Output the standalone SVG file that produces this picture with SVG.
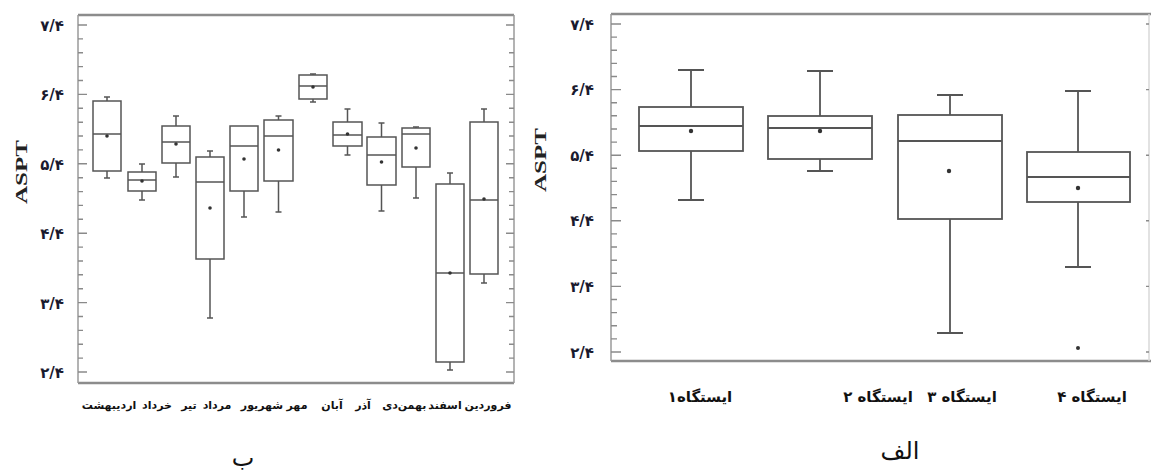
<svg xmlns="http://www.w3.org/2000/svg" width="1151" height="470" viewBox="0 0 1151 470">
<style>
.bg{fill:#fff}
.frame{stroke:#8c8c8c;stroke-width:2.5;fill:none}
.axis{stroke:#9a9a9a;stroke-width:1.5;fill:none}
.tick{stroke:#8a8a8a;stroke-width:1.4;fill:none}
.bx{fill:none;stroke:#555;stroke-width:1.5}
.bxr{fill:none;stroke:#555;stroke-width:1.8}
.dot{fill:#333}
.ylab{font-family:"DejaVu Sans",sans-serif;font-weight:bold;font-size:15px;fill:#1a1a2e}
.ttl{font-family:"Liberation Serif",serif;font-weight:bold;font-size:17px;fill:#222}
.xl{font-family:"DejaVu Sans",sans-serif;font-weight:bold;font-size:11px;fill:#111}
.xr{font-family:"DejaVu Sans",sans-serif;font-weight:bold;font-size:15px;fill:#111}
.cap{font-family:"DejaVu Sans",sans-serif;font-size:24px;fill:#111}
</style>
<rect class="bg" x="0" y="0" width="1151" height="470"/>

<!-- Left chart (ب) -->
<g id="chart-b-frame">
<line class="frame" x1="78" y1="15" x2="514" y2="15"/>
<line class="frame" x1="78" y1="383" x2="514" y2="383"/>
<line class="axis" x1="78" y1="15" x2="78" y2="383"/>
<line class="axis" x1="514" y1="15" x2="514" y2="383"/>
<path class="tick" d="M78 25h9M78 38.9h5M78 52.8h5M78 66.6h5M78 80.5h5M78 94.4h9M78 108.3h5M78 122.2h5M78 136h5M78 149.9h5M78 163.8h9M78 177.7h5M78 191.6h5M78 205.4h5M78 219.3h5M78 233.2h9M78 247.1h5M78 261h5M78 274.8h5M78 288.7h5M78 302.6h9M78 316.5h5M78 330.4h5M78 344.2h5M78 358.1h5M78 372h9"/>
<path class="tick" d="M514 25h-8M514 38.9h-5M514 52.8h-5M514 66.6h-5M514 80.5h-5M514 94.4h-8M514 108.3h-5M514 122.2h-5M514 136h-5M514 149.9h-5M514 163.8h-8M514 177.7h-5M514 191.6h-5M514 205.4h-5M514 219.3h-5M514 233.2h-8M514 247.1h-5M514 261h-5M514 274.8h-5M514 288.7h-5M514 302.6h-8M514 316.5h-5M514 330.4h-5M514 344.2h-5M514 358.1h-5M514 372h-8"/>
</g>
<g id="chart-b-yaxis">
<text class="ttl" transform="translate(27,172) rotate(-90)" text-anchor="middle" textLength="64" lengthAdjust="spacingAndGlyphs">ASPT</text>
<text class="ylab" x="64" y="31" text-anchor="end">۷/۴</text>
<text class="ylab" x="64" y="100" text-anchor="end">۶/۴</text>
<text class="ylab" x="64" y="170" text-anchor="end">۵/۴</text>
<text class="ylab" x="64" y="239" text-anchor="end">۴/۴</text>
<text class="ylab" x="64" y="309" text-anchor="end">۳/۴</text>
<text class="ylab" x="64" y="378" text-anchor="end">۲/۴</text>
</g>
<g id="chart-b-boxes">
<g id="b-box1"><path class="bx" d="M107 97v4M104 97h6M107 171v7M104 178h6"/><rect class="bx" x="93" y="101" width="28" height="70"/><line class="bx" x1="93" y1="134" x2="121" y2="134"/><circle class="dot" cx="107" cy="136" r="1.8"/></g>
<g id="b-box2"><path class="bx" d="M142 164v8M139 164h6M142 191v9M139 200h6"/><rect class="bx" x="128" y="172" width="28" height="19"/><line class="bx" x1="128" y1="180" x2="156" y2="180"/><circle class="dot" cx="142" cy="181" r="1.8"/></g>
<g id="b-box3"><path class="bx" d="M176 116v10M173 116h6M176 163v14M173 177h6"/><rect class="bx" x="162" y="126" width="28" height="37"/><line class="bx" x1="162" y1="142" x2="190" y2="142"/><circle class="dot" cx="176" cy="144" r="1.8"/></g>
<g id="b-box4"><path class="bx" d="M210 151v6M207 151h6M210 259v59M207 318h6"/><rect class="bx" x="196" y="157" width="28" height="102"/><line class="bx" x1="196" y1="182" x2="224" y2="182"/><circle class="dot" cx="210" cy="208" r="1.8"/></g>
<g id="b-box5"><path class="bx" d="M244 191v26M241 217h6"/><rect class="bx" x="230" y="126" width="28" height="65"/><line class="bx" x1="230" y1="146" x2="258" y2="146"/><circle class="dot" cx="244" cy="159" r="1.8"/></g>
<g id="b-box6"><path class="bx" d="M278.5 116v4M275.5 116h6M278.5 181v31M275.5 212h6"/><rect class="bx" x="264" y="120" width="29" height="61"/><line class="bx" x1="264" y1="136" x2="293" y2="136"/><circle class="dot" cx="278.5" cy="150" r="1.8"/></g>
<g id="b-box7"><path class="bx" d="M313 74v1M310 74h6M313 99v3M310 102h6"/><rect class="bx" x="299" y="75" width="28" height="24"/><line class="bx" x1="299" y1="86" x2="327" y2="86"/><circle class="dot" cx="313" cy="87" r="1.8"/></g>
<g id="b-box8"><path class="bx" d="M347.5 109v13M344.5 109h6M347.5 146v9M344.5 155h6"/><rect class="bx" x="333" y="122" width="29" height="24"/><line class="bx" x1="333" y1="135" x2="362" y2="135"/><circle class="dot" cx="347.5" cy="134" r="1.8"/></g>
<g id="b-box9"><path class="bx" d="M381.5 123v14M378.5 123h6M381.5 185v26M378.5 211h6"/><rect class="bx" x="367" y="137" width="29" height="48"/><line class="bx" x1="367" y1="155" x2="396" y2="155"/><circle class="dot" cx="381.5" cy="162" r="1.8"/></g>
<g id="b-box10"><path class="bx" d="M416 127v1M413 127h6M416 167v31M413 198h6"/><rect class="bx" x="402" y="128" width="28" height="39"/><line class="bx" x1="402" y1="134" x2="430" y2="134"/><circle class="dot" cx="416" cy="148" r="1.8"/></g>
<g id="b-box11"><path class="bx" d="M450 173v11M447 173h6M450 362v8M447 370h6"/><rect class="bx" x="436" y="184" width="28" height="178"/><line class="bx" x1="436" y1="273" x2="464" y2="273"/><circle class="dot" cx="450" cy="273" r="1.8"/></g>
<g id="b-box12"><path class="bx" d="M484 109v13M481 109h6M484 274v9M481 283h6"/><rect class="bx" x="470" y="122" width="28" height="152"/><line class="bx" x1="470" y1="200" x2="498" y2="200"/><circle class="dot" cx="484" cy="199" r="1.8"/></g>
</g>
<g id="chart-b-xlabels">
<text class="xl" x="109" y="409" text-anchor="middle">اردیبهشت</text>
<text class="xl" x="157" y="409" text-anchor="middle">خرداد</text>
<text class="xl" x="189" y="409" text-anchor="middle">تیر</text>
<text class="xl" x="217" y="409" text-anchor="middle">مرداد</text>
<text class="xl" x="262" y="409" text-anchor="middle">شهریور</text>
<text class="xl" x="297" y="409" text-anchor="middle">مهر</text>
<text class="xl" x="332" y="409" text-anchor="middle">آبان</text>
<text class="xl" x="363" y="409" text-anchor="middle">آذر</text>
<text class="xl" x="390" y="409" text-anchor="middle">دی</text>
<text class="xl" x="412" y="409" text-anchor="middle">بهمن</text>
<text class="xl" x="445" y="409" text-anchor="middle">اسفند</text>
<text class="xl" x="488" y="409" text-anchor="middle">فروردین</text>
</g>
<g id="caption-b"><text class="cap" x="243" y="466" text-anchor="middle">ب</text></g>

<!-- Right chart (الف) -->
<g id="chart-a-frame">
<line class="frame" x1="611" y1="14" x2="1151" y2="14"/>
<line class="frame" x1="611" y1="361" x2="1151" y2="361"/>
<line class="axis" x1="611" y1="14" x2="611" y2="361"/>
<line class="axis" x1="1149" y1="14" x2="1149" y2="361" style="stroke:#d8d8d8"/>
<path class="tick" d="M611 24h10M611 37.1h6M611 50.2h6M611 63.4h6M611 76.5h6M611 89.6h10M611 102.7h6M611 115.8h6M611 129h6M611 142.1h6M611 155.2h10M611 168.3h6M611 181.4h6M611 194.6h6M611 207.7h6M611 220.8h10M611 233.9h6M611 247h6M611 260.2h6M611 273.3h6M611 286.4h10M611 299.5h6M611 312.6h6M611 325.8h6M611 338.9h6M611 352h10"/>
<path class="tick" d="M1149 24h-3M1149 89.6h-3M1149 155.2h-3M1149 220.8h-3M1149 286.4h-3M1149 352h-3"/>
</g>
<g id="chart-a-yaxis">
<text class="ttl" transform="translate(546,160) rotate(-90)" text-anchor="middle" textLength="64" lengthAdjust="spacingAndGlyphs">ASPT</text>
<text class="ylab" x="594" y="30" text-anchor="end">۷/۴</text>
<text class="ylab" x="594" y="95" text-anchor="end">۶/۴</text>
<text class="ylab" x="594" y="161" text-anchor="end">۵/۴</text>
<text class="ylab" x="594" y="226" text-anchor="end">۴/۴</text>
<text class="ylab" x="594" y="292" text-anchor="end">۳/۴</text>
<text class="ylab" x="594" y="358" text-anchor="end">۲/۴</text>
</g>
<g id="chart-a-boxes">
<g id="a-box1"><path class="bxr" d="M691 70v37M678 70h26M691 151v49M678 200h26"/><rect class="bxr" x="639" y="107" width="104" height="44"/><line class="bxr" x1="639" y1="126" x2="743" y2="126"/><circle class="dot" cx="691" cy="131" r="2.2"/></g>
<g id="a-box2"><path class="bxr" d="M820 71v45M807 71h26M820 159v12M807 171h26"/><rect class="bxr" x="768" y="116" width="104" height="43"/><line class="bxr" x1="768" y1="128" x2="872" y2="128"/><circle class="dot" cx="820" cy="131" r="2.2"/></g>
<g id="a-box3"><path class="bxr" d="M950 95v20M937 95h26M950 219v114M937 333h26"/><rect class="bxr" x="898" y="115" width="104" height="104"/><line class="bxr" x1="898" y1="141" x2="1002" y2="141"/><circle class="dot" cx="949" cy="171" r="2.2"/></g>
<g id="a-box4"><path class="bxr" d="M1078 91v61M1065 91h26M1078 202v65M1065 267h26"/><rect class="bxr" x="1027" y="152" width="103" height="50"/><line class="bxr" x1="1027" y1="177" x2="1130" y2="177"/><circle class="dot" cx="1078" cy="188" r="2.2"/><circle class="dot" cx="1078" cy="348" r="2"/></g>
</g>
<g id="chart-a-xlabels">
<text class="xr" x="700" y="402" text-anchor="middle">ایستگاه۱</text>
<text class="xr" x="878" y="402" text-anchor="middle">ایستگاه ۲</text>
<text class="xr" x="962" y="402" text-anchor="middle">ایستگاه ۳</text>
<text class="xr" x="1092" y="402" text-anchor="middle">ایستگاه ۴</text>
</g>
<g id="caption-a"><text class="cap" x="900" y="459" text-anchor="middle">الف</text></g>
</svg>
